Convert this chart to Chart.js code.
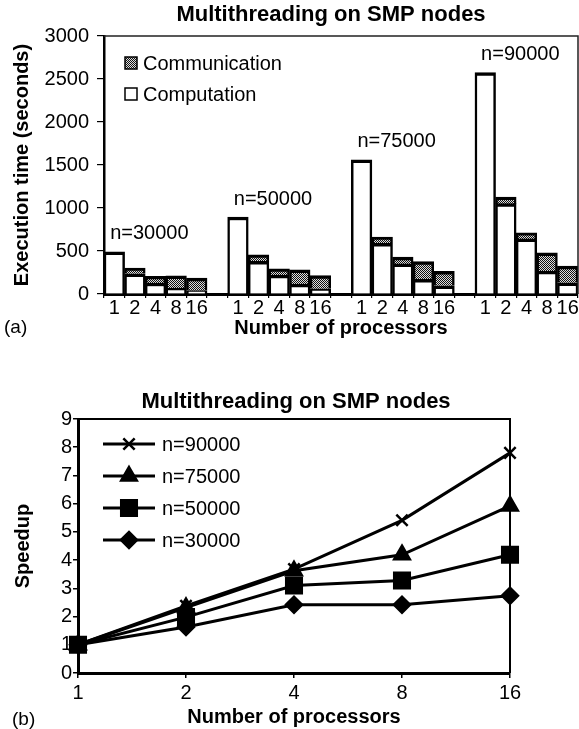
<!DOCTYPE html>
<html>
<head>
<meta charset="utf-8">
<script src="https://cdn.jsdelivr.net/npm/chart.js@4.4.0/dist/chart.umd.min.js"></script>
<style>
  html, body { margin: 0; padding: 0; background: #fff; }
  #wrap { position: relative; width: 579px; height: 729px; }
  .box { position: absolute; left: 0; width: 579px; }
  #top { top: 0; height: 340px; }
  #bottom { top: 340px; height: 389px; }
</style>
</head>
<body>
<div id="wrap">
  <div class="box" id="top"><canvas id="barChart" width="579" height="340"></canvas></div>
  <div class="box" id="bottom"><canvas id="lineChart" width="579" height="389"></canvas></div>
</div>
<script>
// processors per run and problem sizes
const procs = ['1', '2', '4', '8', '16'];
const sizes = ['n=30000', 'n=50000', 'n=75000', 'n=90000'];

// (a) execution time in seconds, split computation / communication
const comp30000 = [490, 235, 128, 70, 40];
const comm30000 = [0, 65, 77, 140, 145];
const comp50000 = [895, 380, 220, 115, 60];
const comm50000 = [0, 75, 72, 165, 155];
const comp75000 = [1560, 590, 350, 170, 95];
const comm75000 = [0, 72, 78, 206, 170];
const comp90000 = [2575, 1050, 641, 266, 131];
const comm90000 = [0, 77, 69, 213, 193];

// (b) speedup
const speedup90000 = [1, 2.38, 3.68, 5.41, 7.8];
const speedup75000 = [1, 2.32, 3.62, 4.19, 5.92];
const speedup50000 = [1, 1.98, 3.1, 3.28, 4.19];
const speedup30000 = [1, 1.63, 2.42, 2.42, 2.74];

const yTicksA = [0, 500, 1000, 1500, 2000, 2500, 3000];
const yTicksB = [0, 1, 2, 3, 4, 5, 6, 7, 8, 9];

const TITLE = 'Multithreading on SMP nodes';
const FONT = '"Liberation Sans", Arial, sans-serif';
Chart.defaults.font.family = FONT;
Chart.defaults.color = '#000';

const compTimes = [comp30000, comp50000, comp75000, comp90000];
const commTimes = [comm30000, comm50000, comm75000, comm90000];

// one empty slot between groups
const barLabels = [];
const compData = [];
const commData = [];
sizes.forEach((s, g) => {
    if (g > 0) {
        barLabels.push('');
        compData.push(null);
        commData.push(null);
    }
    procs.forEach((p, k) => {
        barLabels.push(p);
        compData.push(compTimes[g][k]);
        commData.push(commTimes[g][k]);
    });
});

// dotted fill for the communication part
function makeDots(ctx) {
    const c = document.createElement('canvas');
    c.width = 2; c.height = 2;
    const g = c.getContext('2d');
    g.fillStyle = '#ddd'; g.fillRect(0, 0, 2, 2);
    g.fillStyle = '#111'; g.fillRect(0, 0, 1, 1); g.fillRect(1, 1, 1, 1);
    return ctx.createPattern(c, 'repeat');
}

const barCtx = document.getElementById('barChart').getContext('2d');
const dots = makeDots(barCtx);

const barExtras = {
    id: 'barExtras',
    afterDraw(chart) {
        const ctx = chart.ctx;
        const area = chart.chartArea;
        const xs = chart.scales.x;
        const ys = chart.scales.y;
        ctx.save();
        // frame top + right
        ctx.strokeStyle = '#222';
        ctx.lineWidth = 1.5;
        ctx.beginPath();
        ctx.moveTo(area.left, area.top);
        ctx.lineTo(area.right, area.top);
        ctx.lineTo(area.right, area.bottom);
        ctx.stroke();

        ctx.fillStyle = '#000';
        ctx.textAlign = 'center';
        ctx.textBaseline = 'middle';
        ctx.font = 'bold 22px ' + FONT;
        ctx.fillText(TITLE, (area.left + area.right) / 2 - 10, 15);

        // group labels above the 1-processor bar
        ctx.font = '20px ' + FONT;
        sizes.forEach((s, g) => {
            const i = g * 6;
            const total = compTimes[g][0] + commTimes[g][0];
            ctx.fillText(s, xs.getPixelForValue(i + 1.7), ys.getPixelForValue(total) - 18);
        });

        // legend
        const lx = area.left + 21;
        [[dots, 'Communication', 63], ['#fff', 'Computation', 94]].forEach(r => {
            ctx.fillStyle = r[0];
            ctx.fillRect(lx, r[2] - 6, 12, 12);
            ctx.strokeStyle = '#000';
            ctx.lineWidth = 1.5;
            ctx.strokeRect(lx, r[2] - 6, 12, 12);
            ctx.fillStyle = '#000';
            ctx.textAlign = 'left';
            ctx.fillText(r[1], lx + 18, r[2] + 1);
        });

        ctx.font = '19px ' + FONT;
        ctx.textAlign = 'left';
        ctx.fillText('(a)', 4, 328);
        ctx.restore();
    }
};

const barBorder = { top: 3.5, left: 2.5, right: 2.5, bottom: 0 };

new Chart(barCtx, {
    type: 'bar',
    data: {
        labels: barLabels,
        datasets: [{
            label: 'Computation',
            data: compData,
            backgroundColor: '#fff',
            borderColor: '#000',
            borderWidth: barBorder,
            barPercentage: 1,
            categoryPercentage: 1
        }, {
            label: 'Communication',
            data: commData,
            backgroundColor: dots,
            borderColor: '#000',
            borderWidth: barBorder,
            barPercentage: 1,
            categoryPercentage: 1
        }]
    },
    options: {
        responsive: false,
        animation: false,
        layout: { padding: { top: 36, right: 1, bottom: 0, left: 0 } },
        plugins: {
            legend: { display: false },
            tooltip: { enabled: false }
        },
        scales: {
            x: {
                stacked: true,
                grid: { drawOnChartArea: false, tickLength: 4, color: '#000', lineWidth: 1.2 },
                border: { color: '#000', width: 3 },
                ticks: { font: { size: 20 }, padding: -2, autoSkip: false, maxRotation: 0 },
                title: {
                    display: true,
                    text: 'Number of processors',
                    font: { size: 20, weight: 'bold' },
                    padding: { top: 0, bottom: 0 }
                },
                afterFit(scale) { scale.height = 46; }
            },
            y: {
                stacked: true,
                min: 0,
                max: 3000,
                afterBuildTicks(scale) { scale.ticks = yTicksA.map(v => ({ value: v })); },
                grid: { drawOnChartArea: false, tickLength: 7, color: '#000', lineWidth: 1.2 },
                border: { color: '#000', width: 2.5 },
                ticks: { font: { size: 20 }, padding: 8, callback: v => String(v) },
                title: {
                    display: true,
                    text: 'Execution time (seconds)',
                    font: { size: 20, weight: 'bold' },
                    padding: { top: 10, bottom: 0 }
                },
                afterFit(scale) { scale.width = 104; }
            }
        }
    },
    plugins: [barExtras]
});

// (b) speedup chart
const lineSets = [
    { label: 'n=90000', data: speedup90000, style: 'crossRot', r: 8 },
    { label: 'n=75000', data: speedup75000, style: 'triangle', r: 9 },
    { label: 'n=50000', data: speedup50000, style: 'rect', r: 11 },
    { label: 'n=30000', data: speedup30000, style: 'rectRot', r: 8 }
];

const lineExtras = {
    id: 'lineExtras',
    afterDraw(chart) {
        const ctx = chart.ctx;
        const area = chart.chartArea;
        ctx.save();
        ctx.strokeStyle = '#000';
        ctx.lineWidth = 2;
        ctx.beginPath();
        ctx.moveTo(area.left, area.top);
        ctx.lineTo(area.right, area.top);
        ctx.lineTo(area.right, area.bottom);
        ctx.stroke();

        ctx.fillStyle = '#000';
        ctx.textAlign = 'center';
        ctx.textBaseline = 'middle';
        ctx.font = 'bold 22px ' + FONT;
        ctx.fillText(TITLE, (area.left + area.right) / 2 + 2, 62);

        // legend: line with marker
        const rows = [104, 136, 168, 200];
        ctx.font = '20px ' + FONT;
        ctx.textAlign = 'left';
        lineSets.forEach((s, i) => {
            const y = rows[i];
            ctx.strokeStyle = '#000';
            ctx.fillStyle = '#000';
            ctx.lineWidth = 3;
            ctx.beginPath();
            ctx.moveTo(103, y);
            ctx.lineTo(155, y);
            ctx.stroke();
            ctx.lineWidth = 2.5;
            Chart.helpers.drawPoint(ctx, { pointStyle: s.style, radius: s.r, borderWidth: 2.5, rotation: 0 }, 129, y);
            ctx.fillStyle = '#000';
            ctx.fillText(s.label, 162, y + 1);
        });

        ctx.font = '19px ' + FONT;
        ctx.fillText('(b)', 12, 380);
        ctx.restore();
    }
};

new Chart(document.getElementById('lineChart'), {
    type: 'line',
    data: {
        labels: procs,
        datasets: lineSets.map(s => ({
            label: s.label,
            data: s.data,
            borderColor: '#000',
            borderWidth: 3,
            backgroundColor: '#000',
            pointStyle: s.style,
            pointRadius: s.r,
            pointBorderWidth: 2.5,
            pointBackgroundColor: '#000',
            pointBorderColor: '#000',
            tension: 0,
            clip: false
        }))
    },
    options: {
        responsive: false,
        animation: false,
        layout: { padding: { top: 79, right: 69, bottom: 0, left: 0 } },
        plugins: {
            legend: { display: false },
            tooltip: { enabled: false }
        },
        scales: {
            x: {
                offset: false,
                grid: { drawOnChartArea: false, tickLength: 5, color: '#000', lineWidth: 1.5 },
                border: { color: '#000', width: 3 },
                ticks: { font: { size: 20 }, padding: 3, autoSkip: false, maxRotation: 0 },
                title: {
                    display: true,
                    text: 'Number of processors',
                    font: { size: 20, weight: 'bold' },
                    padding: { top: 0, bottom: 0 }
                },
                afterFit(scale) { scale.height = 56; }
            },
            y: {
                min: 0,
                max: 9,
                afterBuildTicks(scale) { scale.ticks = yTicksB.map(v => ({ value: v })); },
                grid: { drawOnChartArea: false, tickLength: 5, color: '#000', lineWidth: 1.5 },
                border: { color: '#000', width: 3 },
                ticks: { font: { size: 20 }, padding: 1 },
                title: {
                    display: true,
                    text: 'Speedup',
                    font: { size: 20, weight: 'bold' },
                    padding: { top: 11, bottom: 0 }
                },
                afterFit(scale) { scale.width = 78; }
            }
        }
    },
    plugins: [lineExtras]
});
</script>
</body>
</html>
